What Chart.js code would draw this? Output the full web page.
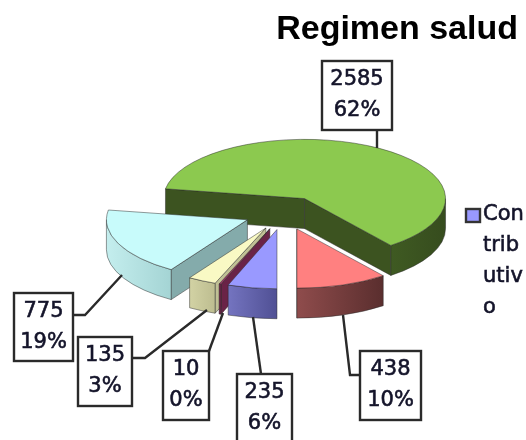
<!DOCTYPE html>
<html>
<head>
<meta charset="utf-8">
<title>Regimen salud</title>
<script src="https://cdn.jsdelivr.net/npm/chart.js@4"></script>
<style>
    html, body { margin: 0; padding: 0; background: #fff; }
    canvas { display: block; filter: blur(0.6px); }
</style>
</head>
<body>
<canvas id="pieChart" width="526" height="440"></canvas>
<script>
// Chart data, Excel order (starts at the bottom of the pie, clockwise)
const categories = ['Contributivo', '', '', '', '', ''];
const values = [235, 10, 135, 775, 2585, 438];

// Slice colours
const topColors = ['#9999ff', '#993366', '#f9f9c4', '#c8fbfb', '#8cc94f', '#ff8080'];
const wallLeft = ['#7474c0', '#74264d', '#d2d2a4', '#c4eeee', '#3f5a22', '#8f4c4c'];
const wallRight = ['#505094', '#6a2347', '#bdbd90', '#a4d4d4', '#364c1e', '#5a2e2e'];
const cutColors = ['#505094', '#6a2347', '#c0c095', '#84abab', '#3c5320', '#5a2e2e'];

// Callout boxes, same order as values: [left, top, right, bottom]
const labelBoxes = [[237, 374, 292, 446], [163, 351, 209, 420], [78, 337, 132, 406],
    [14, 293, 73, 361], [322, 61, 392, 130], [360, 351, 421, 420]];
const leaderLines = [
    [[253, 317], [261, 374]],
    [[223, 313], [209, 351]],
    [[207, 310], [145, 358], [132, 358]],
    [[122, 275], [85, 315], [73, 315]],
    [[377, 148], [377, 130]],
    [[343, 315], [350, 375], [360, 375]]
];

const legendLines = ['Con', 'trib', 'utiv', 'o'];

// Fake 3D geometry
const CENTER_X = 284;
const CENTER_Y = 213;
const RADIUS = 141;
const SQUASH = 0.42;
const DEPTH = 30;
const EXPLODE = 40;
const TEXT_COLOR = '#14142a';
const LABEL_FONT = '21px "DejaVu Sans"';

function drawSlice(ctx, arc, i) {
    const a0 = arc.startAngle;
    const a1 = arc.endAngle;
    const mid = (a0 + a1) / 2;
    const cx = CENTER_X + Math.cos(mid) * EXPLODE;
    const cy = CENTER_Y + Math.sin(mid) * EXPLODE * SQUASH;
    const r = arc.outerRadius;
    const ry = r * SQUASH;
    const rimX = a => cx + Math.cos(a) * r;
    const rimY = a => cy + Math.sin(a) * ry;

    ctx.lineWidth = 0.8;
    ctx.strokeStyle = 'rgba(40, 40, 40, 0.6)';

    // Cut faces that look towards the viewer
    [[a0, Math.cos(a0) < 0], [a1, Math.cos(a1) > 0]].forEach(([a, visible]) => {
        if (!visible) return;
        ctx.beginPath();
        ctx.moveTo(cx, cy);
        ctx.lineTo(rimX(a), rimY(a));
        ctx.lineTo(rimX(a), rimY(a) + DEPTH);
        ctx.lineTo(cx, cy + DEPTH);
        ctx.closePath();
        ctx.fillStyle = cutColors[i];
        ctx.fill();
        ctx.stroke();
    });

    // Outer wall, only the front half of the ellipse shows
    [[0, Math.PI], [2 * Math.PI, 3 * Math.PI]].forEach(([lo, hi]) => {
        const from = Math.max(a0, lo);
        const to = Math.min(a1, hi);
        if (to <= from) return;
        const grad = ctx.createLinearGradient(Math.min(rimX(from), rimX(to)), 0, Math.max(rimX(from), rimX(to)), 0);
        grad.addColorStop(0, wallLeft[i]);
        grad.addColorStop(1, wallRight[i]);
        ctx.beginPath();
        ctx.ellipse(cx, cy, r, ry, 0, from, to);
        ctx.lineTo(rimX(to), rimY(to) + DEPTH);
        ctx.ellipse(cx, cy + DEPTH, r, ry, 0, to, from, true);
        ctx.closePath();
        ctx.fillStyle = grad;
        ctx.fill();
        ctx.stroke();
    });

    // Top face
    ctx.beginPath();
    ctx.moveTo(cx, cy);
    ctx.ellipse(cx, cy, r, ry, 0, a0, a1);
    ctx.closePath();
    ctx.fillStyle = arc.options.backgroundColor;
    ctx.fill();
    ctx.stroke();
}

// Bolder text, the original labels are heavier than the regular face
function heavyText(ctx, text, x, y) {
    ctx.fillText(text, x, y);
    ctx.strokeText(text, x, y);
}

function drawCallouts(ctx) {
    const total = values.reduce((a, b) => a + b, 0);
    ctx.strokeStyle = '#2a2a2a';
    ctx.lineWidth = 2.4;
    leaderLines.forEach(line => {
        ctx.beginPath();
        line.forEach(([x, y], n) => n ? ctx.lineTo(x, y) : ctx.moveTo(x, y));
        ctx.stroke();
    });
    ctx.font = LABEL_FONT;
    ctx.textAlign = 'center';
    ctx.textBaseline = 'middle';
    labelBoxes.forEach(([l, t, r, b], i) => {
        ctx.fillStyle = '#fff';
        ctx.strokeStyle = '#2a2a2a';
        ctx.lineWidth = 2.4;
        ctx.fillRect(l, t, r - l, b - t);
        ctx.strokeRect(l, t, r - l, b - t);
        ctx.fillStyle = TEXT_COLOR;
        ctx.strokeStyle = TEXT_COLOR;
        ctx.lineWidth = 0.6;
        heavyText(ctx, String(values[i]), (l + r) / 2, t + 19);
        heavyText(ctx, Math.round(values[i] / total * 100) + '%', (l + r) / 2, t + 50);
    });
}

function drawLegend(ctx) {
    ctx.fillStyle = topColors[0];
    ctx.strokeStyle = '#333';
    ctx.lineWidth = 2.4;
    ctx.fillRect(466, 209, 14, 13);
    ctx.strokeRect(466, 209, 14, 13);
    ctx.font = LABEL_FONT;
    ctx.textAlign = 'left';
    ctx.textBaseline = 'middle';
    ctx.fillStyle = TEXT_COLOR;
    ctx.strokeStyle = TEXT_COLOR;
    ctx.lineWidth = 0.6;
    legendLines.forEach((text, i) => heavyText(ctx, text, 483, 215 + i * 31));
}

// Redraws the pie arcs as an exploded 3D pie, using the angles Chart.js worked out
const pie3d = {
    id: 'pie3d',
    beforeDatasetDraw() {
        return false;
    },
    afterDatasetsDraw(chart) {
        const ctx = chart.ctx;
        const arcs = chart.getDatasetMeta(0).data.map((arc, i) => ({ arc, i }));
        const depthOf = a => Math.sin((a.arc.startAngle + a.arc.endAngle) / 2);
        ctx.save();
        arcs.sort((a, b) => depthOf(a) - depthOf(b)).forEach(a => drawSlice(ctx, a.arc, a.i));
        drawCallouts(ctx);
        drawLegend(ctx);
        ctx.restore();
    }
};

new Chart(document.getElementById('pieChart'), {
    type: 'pie',
    data: {
        labels: categories,
        datasets: [{
            data: values,
            backgroundColor: topColors,
            radius: RADIUS
        }]
    },
    options: {
        responsive: false,
        animation: false,
        rotation: 180,
        layout: { padding: { right: 8 } },
        plugins: {
            legend: { display: false },
            tooltip: { enabled: false },
            title: {
                display: true,
                text: 'Regimen salud',
                align: 'end',
                color: '#000',
                font: { family: '"Liberation Sans"', size: 34, weight: 'bold' },
                padding: { top: 9, bottom: 0 }
            }
        }
    },
    plugins: [pie3d]
});
</script>
</body>
</html>
